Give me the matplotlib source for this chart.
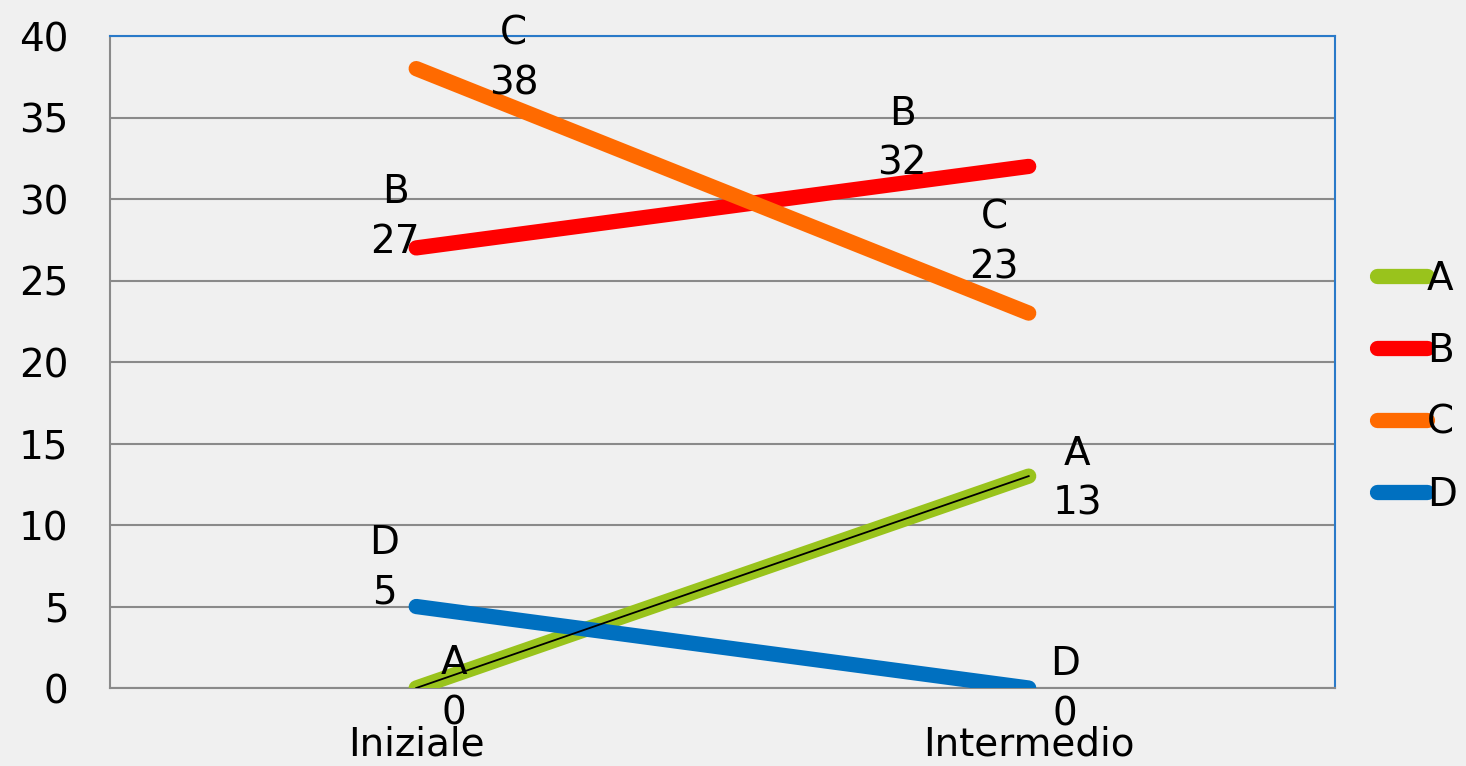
import matplotlib
matplotlib.use("Agg")
import matplotlib.pyplot as plt

# data
categories = ["Iniziale", "Intermedio"]
series_names = ["A", "B", "C", "D"]
values_a = [0, 13]
values_b = [27, 32]
values_c = [38, 23]
values_d = [5, 0]

COLORS = {
    "A": "#99c31c",
    "B": "#ff0000",
    "C": "#ff6a00",
    "D": "#0070c0",
}
BG = "#f0f0f0"
FS = 28

# offsets (points) of the hand-placed data labels, per series per category
LABEL_OFFSETS = {
    "A": [(27, 0), (35, -2)],
    "B": [(-15, 22), (-91, 20)],
    "C": [(70, 7), (-25, 51)],
    "D": [(-23, 28), (26, -1)],
}

plt.rcParams['font.family'] = ['DejaVu Sans']

fig = plt.figure(figsize=(14.66, 7.66), dpi=100, facecolor=BG)
ax = fig.add_axes([0.075, 0.1018, 0.8356, 0.8512])
ax.set_facecolor(BG)

x = list(range(len(categories)))
all_values = [values_a, values_b, values_c, values_d]

for name, vals in zip(series_names, all_values):
    ax.plot(x, vals, color=COLORS[name], linewidth=11, solid_capstyle='round',
            label=name, zorder=3)

# thin black line on top of series A
ax.plot(x, values_a, color='black', linewidth=1.3, zorder=5)

# data labels
for name, vals in zip(series_names, all_values):
    for i, v in enumerate(vals):
        dx, dy = LABEL_OFFSETS[name][i]
        ax.annotate(f"{name}\n{v}", (x[i], v), xytext=(dx, dy),
                    textcoords='offset points', ha='center', va='center',
                    fontsize=FS, linespacing=1.4, zorder=6)

ax.set_xlim(-0.5, 1.5)
ax.set_ylim(0, 40)
ax.set_yticks(range(0, 41, 5))
ax.set_xticks(x)
ax.set_xticklabels(categories)
ax.tick_params(axis='y', length=0, pad=30, labelsize=FS)
ax.tick_params(axis='x', length=0, pad=27, labelsize=FS)

ax.yaxis.grid(True, color='#8a8a8a', linewidth=1.5, zorder=1)
ax.set_axisbelow(True)

ax.spines['left'].set_color('#8a8a8a')
ax.spines['left'].set_linewidth(1.5)
ax.spines['bottom'].set_color('#8a8a8a')
ax.spines['bottom'].set_linewidth(1.5)
ax.spines['top'].set_color('#2a7ac9')
ax.spines['top'].set_linewidth(1.5)
ax.spines['right'].set_color('#2a7ac9')
ax.spines['right'].set_linewidth(1.5)

leg = ax.legend(loc='center left', bbox_to_anchor=(1.034, 0.462), frameon=False,
                fontsize=FS, handlelength=1.3, handletextpad=0.0,
                labelspacing=0.87, borderaxespad=0, borderpad=0)

fig.savefig("out.png", dpi=100, facecolor=BG)
